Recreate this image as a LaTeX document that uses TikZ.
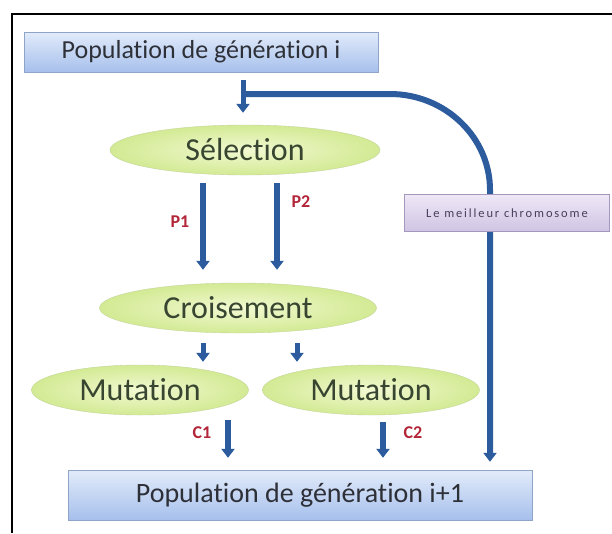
\documentclass[tikz,border=0pt]{standalone}
\usepackage{fontspec}
\setmainfont[RawFeature={-liga;-clig;-calt;-dlig}]{Carlito}
\newfontfamily\widefont[LetterSpace=15,RawFeature={-liga;-clig;-calt;-dlig}]{Carlito}
\usetikzlibrary{shapes.geometric,arrows.meta}
\definecolor{flowblue}{HTML}{2D5C9E}
\definecolor{labelred}{HTML}{B3263A}
\definecolor{poptop}{HTML}{E2EBFA}
\definecolor{popbottom}{HTML}{A6C0EC}
\definecolor{popedge}{HTML}{8FA5C8}
\definecolor{textgray}{HTML}{2E3038}
\definecolor{ellin}{HTML}{F2F9D2}
\definecolor{ellout}{HTML}{D3EA94}
\definecolor{elledge}{HTML}{C4D69C}
\definecolor{elltext}{HTML}{384530}
\definecolor{besttop}{HTML}{EEE8F6}
\definecolor{bestbottom}{HTML}{CFC3E3}
\definecolor{bestedge}{HTML}{A597BD}
\definecolor{besttext}{HTML}{4A3D5C}
\begin{document}
\begin{tikzpicture}[x=1pt, y=-1pt,
    popbox/.style={rectangle, draw=popedge, top color=poptop, bottom color=popbottom, minimum height=40pt, inner sep=0pt, text=textgray},
    opell/.style={ellipse, draw=elledge, inner color=ellin, outer color=ellout, minimum height=50pt, inner sep=0pt, text=elltext, font=\fontsize{32}{34}\selectfont},
    flow/.style={-{Triangle[width=13pt,length=9pt]}, line width=6pt, draw=flowblue},
    tag/.style={text=labelred, font=\bfseries\fontsize{18}{20}\selectfont}
]
\useasboundingbox[fill=white] (0,0) rectangle (612,533);
\draw[line width=2pt] (612,14) -- (12,14) -- (12,533);

% Populations
\node[popbox, minimum width=354pt, font=\fontsize{26}{28}\selectfont] (top) at (201,52) {Population de génération i};
\node[popbox, minimum width=464pt, minimum height=50pt, font=\fontsize{28}{30}\selectfont] (bot) at (300,495) {Population de génération i+1};

% Operators
\node[opell, minimum width=270pt] (sel) at (245,150) {Sélection};
\node[opell, minimum width=277pt] (cro) at (238,308) {Croisement};
\node[opell, minimum width=217pt] (mut1) at (140,390) {Mutation};
\node[opell, minimum width=217pt] (mut2) at (371,390) {Mutation};

% Connections
\draw[flow, line width=5pt] ([xshift=42pt,yshift=-8pt]top.south) -- ([xshift=-2pt,yshift=12pt]sel.north);
\draw[flow] ([xshift=-42pt,yshift=-8pt]sel.south) -- ([xshift=-35pt,yshift=13pt]cro.north);
\draw[flow] ([xshift=32pt,yshift=-8pt]sel.south) -- ([xshift=39pt,yshift=13pt]cro.north);
\draw[flow, line width=5pt] ([xshift=-35pt,yshift=-10pt]cro.south) -- ([xshift=63pt,yshift=3pt]mut1.north);
\draw[flow, line width=5pt] ([xshift=59pt,yshift=-10pt]cro.south) -- ([xshift=-74pt,yshift=3pt]mut2.north);
\draw[flow] ([xshift=88pt,yshift=-5pt]mut1.south) -- ([xshift=-72pt,yshift=12pt]bot.north);
\draw[flow] ([xshift=12pt,yshift=-7pt]mut2.south) -- ([xshift=83pt,yshift=12pt]bot.north);

% Labels
\node[tag] (p1) at (180,222) {P1};
\node[tag] (p2) at (301,202) {P2};
\node[tag] (c1) at (202,433) {C1};
\node[tag] (c2) at (413,433) {C2};

% Feedback
\coordinate (tee) at (245,94);
\draw[flow] (tee) -- (390,94) .. controls (445,94) and (490,137) .. (490,190) -- ([xshift=190pt,yshift=8pt]bot.north);
\node[rectangle, draw=bestedge, top color=besttop, bottom color=bestbottom, minimum width=205pt, minimum height=37pt, text=besttext, font=\widefont\fontsize{12.5}{14}\selectfont] (best) at (507,213) {Le meilleur chromosome};
\end{tikzpicture}
\end{document}
